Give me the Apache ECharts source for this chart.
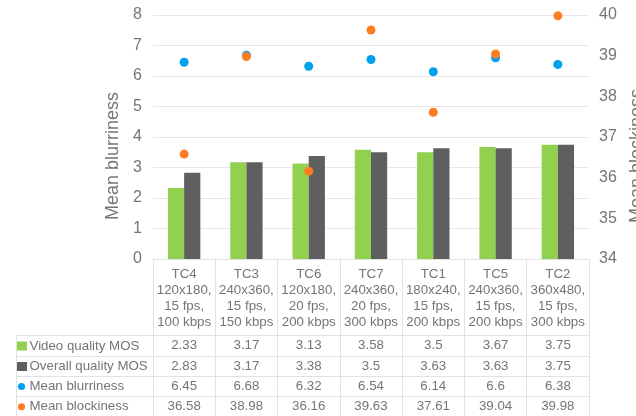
<!DOCTYPE html>
<html><head><meta charset="utf-8">
<script src="https://cdn.jsdelivr.net/npm/echarts@6/dist/echarts.min.js"></script>
<style>html,body{margin:0;padding:0;background:#fff}#c{width:636px;height:416px}</style>
</head><body><div id="c"></div>
<script>
var categories = ['TC4\n120x180,\n15 fps,\n100 kbps','TC3\n240x360,\n15 fps,\n150 kbps','TC6\n120x180,\n20 fps,\n200 kbps','TC7\n240x360,\n20 fps,\n300 kbps','TC1\n180x240,\n15 fps,\n200 kbps','TC5\n240x360,\n15 fps,\n200 kbps','TC2\n360x480,\n15 fps,\n300 kbps'];
var seriesNames = ['Video quality MOS','Overall quality MOS','Mean blurriness','Mean blockiness'];
var videoMOS = [2.33,3.17,3.13,3.58,3.5,3.67,3.75];
var overallMOS = [2.83,3.17,3.38,3.5,3.63,3.63,3.75];
var blurriness = [6.45,6.68,6.32,6.54,6.14,6.6,6.38];
var blockiness = [36.58,38.98,36.16,39.63,37.61,39.04,39.98];
var leftTicks = [0,8,1];
var rightTicks = [34,40,1];

var FONT = 'Liberation Sans, Arial, sans-serif';
var TXT = '#757575';
var LINE = '#e2e2e2';
var colors = ['#92D050','#5f5f5f','#00A2EE','#FF7C22'];

var rows = [videoMOS, overallMOS, blurriness, blockiness];
var rowOffsets = [76, 97, 117, 137];
var rowH = 20.5;

var xAxes = [{
  type:'category', data:categories, position:'bottom',
  axisLine:{show:true,lineStyle:{color:LINE,width:1}},
  axisTick:{show:true,interval:0,length:76,lineStyle:{color:LINE}},
  axisLabel:{interval:0,margin:7,color:TXT,fontSize:13.3,fontFamily:FONT,lineHeight:16,align:'center'}
}];
rows.forEach(function(r,i){
  xAxes.push({
    type:'category', data:r.map(String), position:'bottom', offset:rowOffsets[i], gridIndex:0,
    axisLine:{show:true,onZero:false,lineStyle:{color:LINE,width:1}},
    axisTick:{show:true,interval:0,length:rowH,lineStyle:{color:LINE}},
    axisLabel:{interval:0,margin:4,color:TXT,fontSize:13.3,fontFamily:FONT}
  });
});

var graphics = [];
var ys = [335,356,376,396,416.5];
for (var k=0;k<4;k++){
  graphics.push({type:'line',shape:{x1:16,y1:ys[k]+0.5,x2:153,y2:ys[k]+0.5},style:{stroke:LINE,lineWidth:1}});
}
graphics.push({type:'line',shape:{x1:16.5,y1:335,x2:16.5,y2:416},style:{stroke:LINE,lineWidth:1}});
seriesNames.forEach(function(n,i){
  var cy = (ys[i]+ys[i+1])/2+0.5;
  if(i<2){
    graphics.push({type:'rect',shape:{x:17,y:cy-4.5,width:10,height:9},style:{fill:colors[i]}});
  } else {
    graphics.push({type:'circle',shape:{cx:21.5,cy:cy,r:3.6},style:{fill:colors[i]}});
  }
  graphics.push({type:'text',x:29.5,y:cy,style:{text:n,fill:TXT,font:'13.3px '+FONT,textVerticalAlign:'middle',textAlign:'left'}});
});

var chart = echarts.init(document.getElementById('c'),null,{renderer:'canvas'});
chart.setOption({
  animation:false,
  backgroundColor:'#fff',
  grid:{left:153,right:47,top:15,bottom:157,containLabel:false,outerBoundsMode:'none'},
  xAxis:xAxes,
  yAxis:[{
    type:'value',min:leftTicks[0],max:leftTicks[1],interval:leftTicks[2],position:'left',
    name:'Mean blurriness',nameLocation:'middle',nameRotate:90,nameGap:22,
    nameTextStyle:{color:TXT,fontSize:18,fontFamily:FONT,padding:[0,38,0,0]},
    axisLine:{show:false},axisTick:{show:false},
    axisLabel:{color:TXT,fontSize:16,fontFamily:FONT,margin:11},
    splitLine:{show:true,lineStyle:{color:'#e8e8e8',width:1}}
  },{
    type:'value',min:rightTicks[0],max:rightTicks[1],interval:rightTicks[2],position:'right',
    name:'Mean blockiness',nameLocation:'middle',nameRotate:90,nameGap:35,
    nameTextStyle:{color:TXT,fontSize:18,fontFamily:FONT,padding:[0,38,0,0]},
    axisLine:{show:false},axisTick:{show:false},
    axisLabel:{color:TXT,fontSize:16,fontFamily:FONT,margin:10},
    splitLine:{show:false}
  }],
  series:[
    {name:seriesNames[0],type:'bar',data:videoMOS,xAxisIndex:0,yAxisIndex:0,barGap:'0%',barCategoryGap:'48%',itemStyle:{color:colors[0]}},
    {name:seriesNames[1],type:'bar',data:overallMOS,xAxisIndex:0,yAxisIndex:0,barGap:'0%',barCategoryGap:'48%',itemStyle:{color:colors[1]}},
    {name:seriesNames[2],type:'scatter',data:blurriness,xAxisIndex:0,yAxisIndex:0,symbolSize:9,itemStyle:{color:colors[2],opacity:1}},
    {name:seriesNames[3],type:'scatter',data:blockiness,xAxisIndex:0,yAxisIndex:1,symbolSize:9,itemStyle:{color:colors[3],opacity:1}}
  ],
  graphic:graphics
});
</script></body></html>
